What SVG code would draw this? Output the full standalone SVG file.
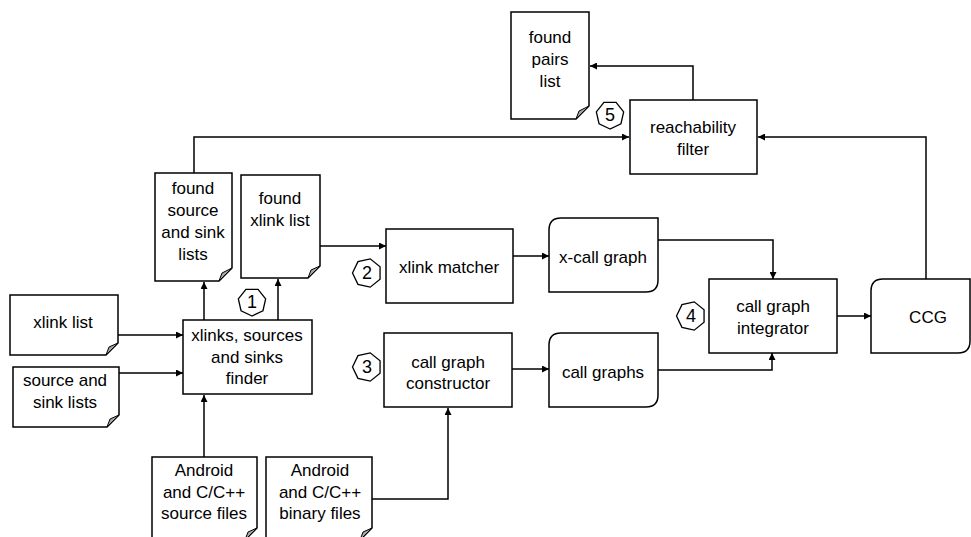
<svg xmlns="http://www.w3.org/2000/svg" width="971" height="537" viewBox="0 0 971 537">
  <style>
    .shape { fill: #fff; stroke: #000; stroke-width: 1.5; }
    .fold { fill: #a6a6a6; stroke: #000; stroke-width: 1; stroke-linejoin: round; }
    .label { font-family: "Liberation Sans", Arial, sans-serif; font-size: 17px; fill: #000; text-anchor: middle; }
    .num { font-family: "Liberation Sans", Arial, sans-serif; font-size: 18px; fill: #000; text-anchor: middle; }
    .hept { fill: #fff; stroke: #000; stroke-width: 1.3; }
    .wire { fill: none; stroke: #000; stroke-width: 1.5; }
  </style>
  <defs>
    <marker id="arrow" viewBox="0 0 10 10" refX="10" refY="5" markerWidth="7" markerHeight="7" markerUnits="userSpaceOnUse" orient="auto">
      <path d="M0,0 L10,5 L0,10 Z" fill="#000"/>
    </marker>
    <!-- heptagon badges: one with a vertex pointing left, one with a flat top -->
    <polygon id="heptL" class="hept" points="-14.5,0 -9.04,-11.34 3.23,-14.14 13.06,-6.29 13.06,6.29 3.23,14.14 -9.04,11.34"/>
    <polygon id="heptT" class="hept" points="0,14 -10.95,8.73 -13.65,-3.12 -6.07,-12.6 6.07,-12.6 13.65,-3.12 10.95,8.73"/>
  </defs>

  <!-- connectors -->
  <g id="connectors">
    <path class="wire" d="M194,173 V137 H629" marker-end="url(#arrow)"/>
    <path class="wire" d="M926,279 V137 H758" marker-end="url(#arrow)"/>
    <path class="wire" d="M693,100 V66 H590" marker-end="url(#arrow)"/>
    <path class="wire" d="M204,320 V282" marker-end="url(#arrow)"/>
    <path class="wire" d="M278,320 V279" marker-end="url(#arrow)"/>
    <path class="wire" d="M320,246 H386" marker-end="url(#arrow)"/>
    <path class="wire" d="M118,335 H183" marker-end="url(#arrow)"/>
    <path class="wire" d="M119,373 H183" marker-end="url(#arrow)"/>
    <path class="wire" d="M204,457 V395" marker-end="url(#arrow)"/>
    <path class="wire" d="M372,499 H448 V408" marker-end="url(#arrow)"/>
    <path class="wire" d="M513,256 H549" marker-end="url(#arrow)"/>
    <path class="wire" d="M512,369 H549" marker-end="url(#arrow)"/>
    <path class="wire" d="M658,240 H773 V279" marker-end="url(#arrow)"/>
    <path class="wire" d="M658,370 H772 V353" marker-end="url(#arrow)"/>
    <path class="wire" d="M837,316 H871" marker-end="url(#arrow)"/>
  </g>

  <!-- documents (folded corner bottom-right) -->
  <g id="found-pairs-list">
    <path class="shape" d="M511,12 H589 V106 L576,119 H511 Z"/>
    <path class="fold" d="M589,106 L576,119 L579,111 Z"/>
    <text class="label" x="550" y="43">found</text>
    <text class="label" x="550" y="65">pairs</text>
    <text class="label" x="550" y="87">list</text>
  </g>

  <g id="found-source-sink-lists">
    <path class="shape" d="M155,173 H232 V268 L219,281 H155 Z"/>
    <path class="fold" d="M232,268 L219,281 L222,273 Z"/>
    <text class="label" x="193" y="194">found</text>
    <text class="label" x="193" y="216">source</text>
    <text class="label" x="193" y="238">and sink</text>
    <text class="label" x="193" y="260">lists</text>
  </g>

  <g id="found-xlink-list">
    <path class="shape" d="M241,175 H320 V266 L308,278 H241 Z"/>
    <path class="fold" d="M320,266 L308,278 L311,270 Z"/>
    <text class="label" x="280" y="204">found</text>
    <text class="label" x="280" y="226">xlink list</text>
  </g>

  <g id="xlink-list">
    <path class="shape" d="M10,295 H118 V343 L106,355 H10 Z"/>
    <path class="fold" d="M118,343 L106,355 L109,347 Z"/>
    <text class="label" x="63" y="328">xlink list</text>
  </g>

  <g id="source-sink-lists">
    <path class="shape" d="M13,367 H119 V415 L107,427 H13 Z"/>
    <path class="fold" d="M119,415 L107,427 L110,419 Z"/>
    <text class="label" x="65" y="386">source and</text>
    <text class="label" x="65" y="408">sink lists</text>
  </g>

  <g id="source-files">
    <path class="shape" d="M152,457 H257 V528 L245,540 H152 Z"/>
    <path class="fold" d="M257,528 L245,540 L248,532 Z"/>
    <text class="label" x="204" y="476">Android</text>
    <text class="label" x="204" y="498">and C/C++</text>
    <text class="label" x="204" y="519">source files</text>
  </g>

  <g id="binary-files">
    <path class="shape" d="M266,457 H372 V528 L360,540 H266 Z"/>
    <path class="fold" d="M372,528 L360,540 L363,532 Z"/>
    <text class="label" x="320" y="476">Android</text>
    <text class="label" x="320" y="498">and C/C++</text>
    <text class="label" x="320" y="519">binary files</text>
  </g>

  <!-- process boxes -->
  <g id="reachability-filter">
    <rect class="shape" x="630" y="100" width="127" height="74"/>
    <text class="label" x="693" y="133">reachability</text>
    <text class="label" x="693" y="155">filter</text>
  </g>

  <g id="finder">
    <rect class="shape" x="183" y="320" width="129" height="74"/>
    <text class="label" x="247" y="341">xlinks, sources</text>
    <text class="label" x="247" y="363">and sinks</text>
    <text class="label" x="247" y="384">finder</text>
  </g>

  <g id="xlink-matcher">
    <rect class="shape" x="386" y="229" width="127" height="74"/>
    <text class="label" x="449" y="273">xlink matcher</text>
  </g>

  <g id="call-graph-constructor">
    <rect class="shape" x="384" y="333" width="128" height="74"/>
    <text class="label" x="448" y="368">call graph</text>
    <text class="label" x="448" y="389">constructor</text>
  </g>

  <g id="call-graph-integrator">
    <rect class="shape" x="709" y="279" width="128" height="74"/>
    <text class="label" x="773" y="312">call graph</text>
    <text class="label" x="773" y="334">integrator</text>
  </g>

  <!-- data stores (rounded top-left and bottom-right) -->
  <g id="x-call-graph">
    <path class="shape" d="M561,218 H658 V280 Q658,292 646,292 H549 V230 Q549,218 561,218 Z"/>
    <text class="label" x="603" y="263">x-call graph</text>
  </g>

  <g id="call-graphs">
    <path class="shape" d="M561,333 H658 V395 Q658,407 646,407 H549 V345 Q549,333 561,333 Z"/>
    <text class="label" x="603" y="378">call graphs</text>
  </g>

  <g id="ccg">
    <path class="shape" d="M883,279 H970 V341 Q970,353 958,353 H871 V291 Q871,279 883,279 Z"/>
    <text class="label" x="928" y="323">CCG</text>
  </g>

  <!-- step numbers -->
  <g id="step-1">
    <use href="#heptT" x="252" y="302"/>
    <text class="num" x="252" y="308">1</text>
  </g>
  <g id="step-2">
    <use href="#heptL" x="367" y="273"/>
    <text class="num" x="367" y="279">2</text>
  </g>
  <g id="step-3">
    <use href="#heptL" x="367" y="367"/>
    <text class="num" x="367" y="373">3</text>
  </g>
  <g id="step-4">
    <use href="#heptL" x="691" y="316"/>
    <text class="num" x="691" y="322">4</text>
  </g>
  <g id="step-5">
    <use href="#heptT" x="610" y="115"/>
    <text class="num" x="610" y="121">5</text>
  </g>
</svg>
